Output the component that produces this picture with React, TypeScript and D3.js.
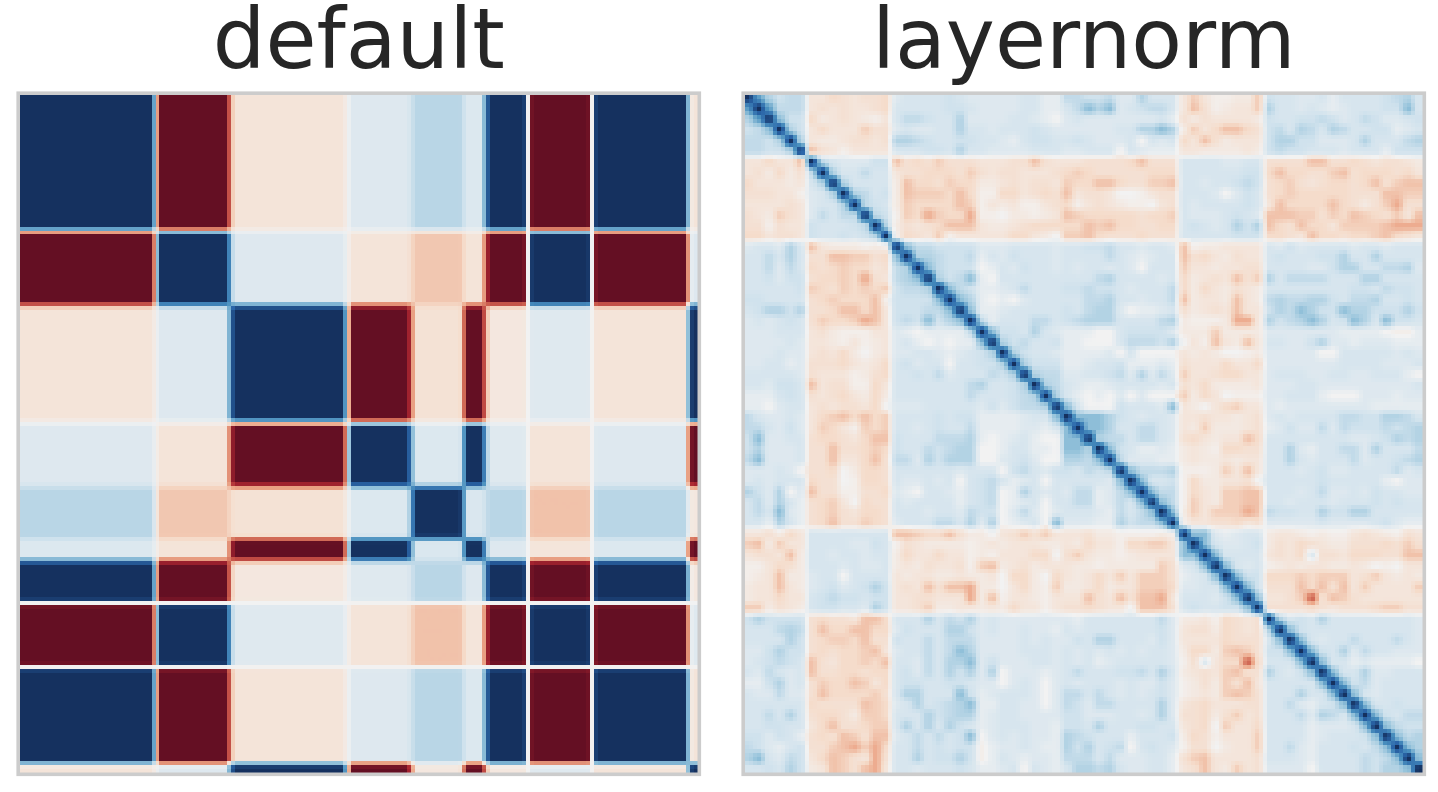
/**
 * Two correlation heatmaps side by side: "default" and "layernorm".
 * Both are 64x64 matrices shown through a RdBu colormap with the image resampled
 * in value space, which gives the pale strips between the blocks.
 */
import { useEffect, useRef } from "react";
import * as d3 from "d3";

const CELLS = 64;
const TITLES = ["default", "layernorm"];

// default: the matrix is made of ten clusters, sizes along the diagonal
const DEFAULT_GROUPS = [13, 7, 11, 6, 5, 2, 4, 6, 9, 1];
const DEFAULT_BLOCKS = [
  [1, -1, -0.13, 0.12, 0.28, 0.13, 1, -1, 1, -0.13],
  [-1, 1, 0.12, -0.13, -0.28, -0.13, -1, 1, -1, 0.12],
  [-0.13, 0.12, 1, -1, -0.15, -1, -0.1, 0.11, -0.13, 1],
  [0.12, -0.13, -1, 1, 0.13, 1, 0.11, -0.13, 0.12, -1],
  [0.28, -0.28, -0.15, 0.13, 1, 0.14, 0.28, -0.3, 0.28, -0.1],
  [0.13, -0.13, -1, 1, 0.14, 1, 0.12, -0.12, 0.13, -1],
  [1, -1, -0.1, 0.11, 0.28, 0.12, 1, -1, 1, -0.1],
  [-1, 1, 0.11, -0.13, -0.3, -0.12, -1, 1, -1, 0.11],
  [1, -1, -0.13, 0.12, 0.28, 0.13, 1, -1, 1, -0.13],
  [-0.13, 0.12, 1, -1, -0.1, -1, -0.1, 0.11, -0.13, 1],
];

// layernorm: upper triangle, one letter per cell.
// pieces end at columns 6, 14, 23, 32, 41, 49, 64
const LEVELS: Record<string, number> = {
  "0": 0, "1": 0.07, "2": 0.12, "3": 0.16, "4": 0.2, "5": 0.25, "6": 0.3, "7": 0.42, "8": 0.55, "9": 0.75, X: 1,
  a: -0.04, b: -0.08, c: -0.12, d: -0.16, e: -0.2, f: -0.25, g: -0.3, h: -0.38, j: -0.6,
};
const COLUMN_STOPS = [6, 14, 23, 32, 41, 49, 64];
const LAYERNORM_ROWS = [
  "X86455 ccedcdde 233334322 222331155 445226333 cfcaabbf 433223133334563",
  "X8555 cdcdccde 333334432 222331135 767234553 cgdabccf 633232123334473",
  "X744 ebcdcbac 355433622 223321023 222222231 dbdccccb 433445423542234",
  "X64 cecccfdd 232233633 233343222 222336676 bfcegged 453653653344123",
  "X6 cbbcddcd 665433443 321344334 322230323 ecgdbccc 466442223633356",
  "X gdcacccc 333443633 222233322 333032111 ccbbbbcb 454433323331444",
  "X5322244 gdedfdddc ccddgdccc ddddegddd 33332233 ddddggddedcddcb",
  "X633533 cddeeedfd cddcccdef edddddeee 33333344 egeeddfgdeeedec",
  "X63333 bgeedfeeb bcdcddcfe eggeddffg 33233454 defdcdeedegdfgg",
  "X6534 bgfffegea aeecdedgc ddc00acdd 33320243 defeeeeedddggff",
  "X543 bfeeeegfa cbcaacdea cdcbaa0cd 32333343 cgeeeegedbdfhdd",
  "X54 afehfeeha a0bbabcgf eeeeedeef 32223432 gggffdfegfedfcg",
  "X6 bdcdegggc bbcdeeeee gfgeeddee 34323646 gedgeecffffghhh",
  "X aedcfaccc cceecb0ff gedddeddd 33333444 eedcgeedeefgedc",
  "X75544442 223333233 445332332 gabbcccc 324233332332333",
  "X6654451 324333233 335321233 gdecbdcc 343334463363333",
  "X754440 132433232 332320333 fccbccdd 333322466335562",
  "X64571 033333333 356333323 ebcdcgdf 635555333663333",
  "X7541 123533344 544323335 ebecbdcb 333333334435443",
  "X761 010233333 556332335 gbccbgcb 565566435563343",
  "X71 123333343 566201123 dbcdcgcc 465764476644464",
  "X5 133355345 666333356 baaabhhc 645676347637443",
  "X 744363211 100344442 bbbfbbbb 222222211110aa1",
  "X64533411 000355546 0cagcbgc 332246221222111",
  "X6433211 112030000 cbcb00ab 222220033333232",
  "X644411 233411121 dcccecce 222222233332223",
  "X65522 334526252 fccdeecc 233322332233310",
  "X6532 112333323 dcebbbbc 222332222222223",
  "X631 010202000 fbec0aaa 223331000222122",
  "X73 000433327 cb0cefcc 212222222211111",
  "X7 776432332 ccdccbcd 232333355446653",
  "X 776335532 cbfbbbcd 124225254445456",
  "X65535532 decbccge 333333332234656",
  "X7431121 bcbaeedd 336213355263335",
  "X522211 bcbbcbcc 336323335233456",
  "X75556 aaabfcgc 333234223333523",
  "X7334 aebbccd0 333334333331022",
  "X755 aecbffgg 333235223243322",
  "X75 afcbffgg 332333233343433",
  "X7 bfcfffhg 544336446633333",
  "X accddecd 222223222234211",
  "X7721233 bccbabaacdcbadc",
  "X732234 bdcedcbbdddedfd",
  "X73333 cdce2ddceeeddgg",
  "X7323 abcbccbbcb0a0cc",
  "X744 eeefefffcdfcbcb",
  "X74 dddgegdgcfccccf",
  "X7 ccdfjdgfdcccccc",
  "X ddddedcdddeffdd",
  "X63436333333332",
  "X7433333333332",
  "X732335333532",
  "X74362533222",
  "X7331211110",
  "X733622333",
  "X74523333",
  "X7323333",
  "X733433",
  "X74355",
  "X7544",
  "X756",
  "X76",
  "X7",
  "X",
];

// RdBu as it looks in the picture, a little greyer than the plain colormap
const RDBU = ["#640f23", "#ab2530", "#cf6552", "#eca789", "#f5dccb", "#f2f2f2", "#d0e2ed", "#96c3db", "#4a90bf", "#2a65a8", "#15315f"];

function defaultMatrix(): number[][] {
  const groupOf = DEFAULT_GROUPS.flatMap((size, g) => d3.range(size).map(() => g));
  return groupOf.map((a) => groupOf.map((b) => DEFAULT_BLOCKS[a][b]));
}

function layernormMatrix(): number[][] {
  const m = d3.range(CELLS).map(() => d3.range(CELLS).map(() => 0));
  LAYERNORM_ROWS.forEach((row, i) => {
    let col = i;
    const stops = COLUMN_STOPS.filter((s) => s > i);
    row.split(" ").forEach((piece, p) => {
      // keep every piece on its own column range, a miscounted piece must not shift the rest
      const width = stops[p] - col;
      const cells = piece.padEnd(width, piece[piece.length - 1]).slice(0, width);
      for (const c of cells) {
        m[i][col] = LEVELS[c];
        m[col][i] = LEVELS[c];
        col++;
      }
    });
  });
  return m;
}

// the photo shows the image at about 170 coarse pixels per side
const GRID = 170;
const SIDE = 677.5;
// centre of cell i sits at 2.7 + 10.64 * i px from the image edge
const CELL_PX = 10.64;
const FIRST_CENTRE_PX = 2.7;

function toCell(i: number) {
  const px = ((i + 0.5) / GRID) * SIDE;
  return Math.max(0, Math.min(CELLS - 1.001, (px - FIRST_CENTRE_PX) / CELL_PX));
}

// bilinear, with the transition a bit narrower than a full cell
function sharpen(f: number) {
  return Math.max(0, Math.min(1, (f - 0.5) / 0.78 + 0.5));
}

function sample(m: number[][], r: number, c: number) {
  const v = toCell(r);
  const u = toCell(c);
  const r0 = Math.floor(v);
  const c0 = Math.floor(u);
  const fv = sharpen(v - r0);
  const fu = sharpen(u - c0);
  return (
    m[r0][c0] * (1 - fv) * (1 - fu) +
    m[r0][c0 + 1] * (1 - fv) * fu +
    m[r0 + 1][c0] * fv * (1 - fu) +
    m[r0 + 1][c0 + 1] * fv * fu
  );
}

export default function App() {
  const svgRef = useRef<SVGSVGElement>(null);

  useEffect(() => {
    if (!svgRef.current) return;
    const svg = d3.select(svgRef.current);
    svg.selectAll("*").remove();

    const top = 95;
    const lefts = [20, 745];
    const matrices = [defaultMatrix(), layernormMatrix()];

    const color = d3
      .scaleLinear<string>()
      .domain(d3.range(11).map((i) => -1 + i * 0.2))
      .range(RDBU)
      .clamp(true);

    const pos = d3.scaleLinear().domain([0, GRID]).range([0, SIDE]);

    matrices.forEach((m, k) => {
      const g = svg
        .append("g")
        .attr("transform", `translate(${lefts[k]},${top})`)
        .attr("shape-rendering", "crispEdges");

      // runs of the same colour on a row become one rect
      const runs: { row: number; from: number; to: number; fill: string }[] = [];
      d3.range(GRID).forEach((row) => {
        let from = 0;
        let fill = color(sample(m, row, 0));
        for (let col = 1; col <= GRID; col++) {
          const next = col < GRID ? color(sample(m, row, col)) : "";
          if (next !== fill) {
            runs.push({ row, from, to: col, fill });
            from = col;
            fill = next;
          }
        }
      });

      g.selectAll("rect")
        .data(runs)
        .enter()
        .append("rect")
        .attr("x", (d) => pos(d.from))
        .attr("y", (d) => pos(d.row))
        .attr("width", (d) => pos(d.to) - pos(d.from))
        .attr("height", (d) => pos(d.row + 1) - pos(d.row))
        .attr("fill", (d) => d.fill);

      svg
        .append("rect")
        .attr("x", lefts[k] - 1.8)
        .attr("y", top - 1.8)
        .attr("width", SIDE + 3.6)
        .attr("height", SIDE + 3.6)
        .attr("fill", "none")
        .attr("stroke", "#cccccc")
        .attr("stroke-width", 3.6);

      svg
        .append("text")
        .attr("x", lefts[k] + SIDE / 2)
        .attr("y", 68)
        .attr("text-anchor", "middle")
        .attr("font-family", "DejaVu Sans")
        .attr("font-size", 83)
        .attr("fill", "#262626")
        .text(TITLES[k]);
    });
  }, []);

  return (
    <svg
      ref={svgRef}
      width={1438}
      height={792}
      style={{ position: "absolute", left: 0, top: 0, background: "#ffffff" }}
    />
  );
}
